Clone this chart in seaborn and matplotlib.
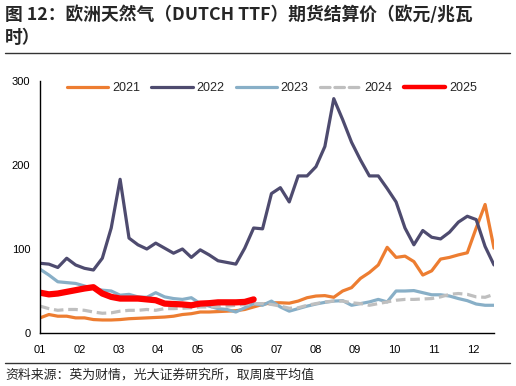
import numpy as np
import pandas as pd
import matplotlib
matplotlib.use("Agg")
import matplotlib.pyplot as plt
import seaborn as sns
from matplotlib.lines import Line2D

# weekly averages, EUR/MWh
y2021 = [18, 22, 20, 20, 18, 18, 16, 15.5, 15.5, 16, 17, 17.5, 18, 18.5, 19, 20,
         22, 23, 25, 25, 25.5, 26, 26.5, 28, 31, 34, 36, 36, 35.5, 38, 42, 44,
         44.5, 42.5, 50, 54, 65, 72, 81, 102, 90, 91.5, 85, 69, 74, 88, 90, 93,
         95.5, 125, 153, 101]
y2022 = [83, 82, 78, 89, 81, 77, 75, 89, 125, 183, 113, 105, 100, 107, 101, 95,
         100, 90, 99, 93, 86, 84, 82, 101, 125, 124, 166, 173, 156, 187, 187, 198,
         222, 279, 254, 227, 206, 187, 187, 172, 156, 125, 105, 122, 114, 112, 120,
         132, 139, 135, 103, 81]
y2023 = [76, 69, 61, 60, 59, 56, 53, 51, 50, 45, 46, 43, 42.5, 48, 43, 41, 40,
         42, 35, 32, 29, 28, 25, 30, 35, 33, 38, 31, 26, 29, 32, 34.5, 36.5, 38,
         38.5, 33, 35, 37, 40, 37, 50, 50, 50.5, 48, 45.5, 45.5, 44, 41, 38.5,
         34.5, 33, 33]
y2024 = [32, 29, 27, 28, 28, 27, 25, 23.5, 24, 26, 27, 27, 28, 27, 29, 29, 29.5,
         30, 31, 31, 31.5, 32, 33, 34, 35, 35, 34, 32, 29.5, 30, 33, 35, 37, 38,
         38, 36, 35, 33, 35, 37, 39, 40, 40, 40.5, 41, 43, 46, 47, 46, 43, 42.5, 46]
y2025 = [48, 46, 47, 49, 51, 53, 54.5, 47, 43, 41, 41, 41, 40, 39, 35, 34.5, 34,
         33, 35, 35.5, 36.5, 36.5, 36.5, 37, 40]

years = ["2021", "2022", "2023", "2024", "2025"]
series = [y2021, y2022, y2023, y2024, y2025]
colors = ["#ED7D31", "#4E4B6F", "#88AFC7", "#BFBFBF", "#FF0000"]
widths = [2.3, 2.3, 2.3, 2.3, 4.5]
month_labels = ["01", "02", "03", "04", "05", "06", "07", "08", "09", "10", "11", "12"]

sns.set_style("white")
plt.rcParams["font.family"] = ["Liberation Sans", "Noto Sans CJK SC", "DejaVu Sans"]

fig = plt.figure(figsize=(5.16, 3.86), dpi=100)
ax = fig.add_axes([40 / 516, 53 / 386, 454 / 516, 252 / 386])

handles = []
for yr, vals, c, lw in zip(years, series, colors, widths):
    d = pd.DataFrame({"week": np.arange(len(vals)), "value": vals})
    ls = (0, (3, 1.5)) if yr == "2024" else "-"
    sns.lineplot(data=d, x="week", y="value", ax=ax, color=c, linewidth=lw,
                 linestyle=ls, legend=False)
    handles.append(Line2D([], [], color=c, linewidth=min(lw, 3.2), linestyle=ls,
                          solid_capstyle="round", dash_capstyle="round"))

ax.set_xlim(0, 51)
ax.set_ylim(0, 300)
ax.set_yticks([0, 100, 200, 300])
ax.set_xticks(np.arange(12) * 4.425)
ax.set_xticklabels(month_labels)
ax.set_xlabel("")
ax.set_ylabel("")
ax.tick_params(axis="both", which="both", direction="out", labelsize=8,
               colors="black", length=3.5, width=1)
ax.tick_params(axis="x", pad=5)
for s in ["top", "right"]:
    ax.spines[s].set_visible(False)
for s in ["left", "bottom"]:
    ax.spines[s].set_color("black")
    ax.spines[s].set_linewidth(1)

ax.legend(handles, years, loc="upper left", bbox_to_anchor=(0.035, 1.04), ncol=5,
          frameon=False, fontsize=9, handlelength=3.3, handletextpad=0.3,
          columnspacing=0.9)

fig.text(5 / 516, 1 - 5 / 386, "图 12：欧洲天然气（DUTCH TTF）期货结算价（欧元/兆瓦\n时）",
         ha="left", va="top", fontsize=12.8, fontweight="bold",
         family=["Noto Sans CJK SC", "DejaVu Sans"], linespacing=1.4)
fig.add_artist(Line2D([5 / 516, 510 / 516], [1 - 53 / 386, 1 - 53 / 386],
                      color="#333333", linewidth=1))
fig.add_artist(Line2D([5 / 516, 510 / 516], [1 - 362.5 / 386, 1 - 362.5 / 386],
                      color="#333333", linewidth=1))
fig.text(5 / 516, 1 - 375 / 386, "资料来源：英为财情，光大证券研究所，取周度平均值",
         ha="left", va="center", fontsize=9.3,
         family=["Noto Sans CJK SC", "DejaVu Sans"])

fig.savefig("out.png", dpi=100)
